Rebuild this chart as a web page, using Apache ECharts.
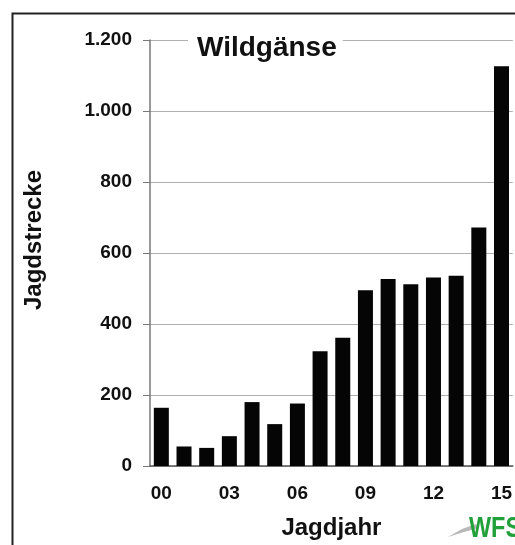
<!DOCTYPE html>
<html><head><meta charset="utf-8">
<script src="https://cdn.jsdelivr.net/npm/echarts@6/dist/echarts.min.js"></script>
<style>html,body{margin:0;padding:0;background:#fff}#c{width:515px;height:545px}</style>
</head><body><div id="c"></div>
<script>
const categories = ['00','01','02','03','04','05','06','07','08','09','10','11','12','13','14','15'];
const values = [164, 55, 51, 84, 180, 118, 176, 323, 361, 495, 527, 512, 531, 536, 672, 1126];
const yTicks = [0, 200, 400, 600, 800, 1000, 1200];
const titleText = 'Wildgänse';
const xName = 'Jagdjahr';
const yName = 'Jagdstrecke';

const chart = echarts.init(document.getElementById('c'), null, {renderer: 'canvas'});
const font = 'Liberation Sans, Arial, sans-serif';
chart.setOption({
  animation: false,
  backgroundColor: '#fff',
  grid: {left: 150, top: 40, right: 0, bottom: 78, containLabel: false},
  xAxis: {
    type: 'category', data: categories,
    axisLine: {lineStyle: {color: '#555', width: 1.5}},
    axisTick: {show: false},
    axisLabel: {interval: 2, color: '#111', fontFamily: font, fontWeight: 'bold', fontSize: 19, margin: 18},
    name: xName, nameLocation: 'middle', nameGap: 50,
    nameTextStyle: {color: '#111', fontFamily: font, fontWeight: 'bold', fontSize: 24}
  },
  yAxis: {
    type: 'value', min: yTicks[0], max: yTicks[yTicks.length - 1], interval: 200,
    axisLine: {show: true, lineStyle: {color: '#777', width: 1.5}},
    axisTick: {show: true, length: 7, lineStyle: {color: '#777'}},
    splitLine: {lineStyle: {color: '#b0b0b0', width: 1}},
    axisLabel: {
      color: '#111', fontFamily: font, fontWeight: 'bold', fontSize: 19, margin: 18,
      formatter: v => v.toString().replace(/\B(?=(\d{3})+(?!\d))/g, '.')
    }
  },
  series: [{
    type: 'bar', data: values, barWidth: 15,
    itemStyle: {color: '#050505'}
  }],
  graphic: [
    {type: 'rect', left: 10, top: 11, shape: {width: 520, height: 545}, style: {fill: 'none', stroke: '#222', lineWidth: 2}, z: 100, silent: true},
    {type: 'text', left: 188, top: 32, z: 50, style: {text: titleText, fill: '#111', font: 'bold 28px ' + font, backgroundColor: '#fff', padding: [2, 6, 2, 9]}},
    {type: 'text', x: 34, y: 240, rotation: Math.PI / 2, z: 50, style: {text: yName, fill: '#111', font: 'bold 24px ' + font, align: 'center', verticalAlign: 'middle'}},
    {type: 'polygon', z: 40, silent: true, shape: {points: [[448, 537], [462, 529], [476, 524], [478, 528], [464, 532]]}, style: {fill: '#b8b8b8'}},
    {type: 'text', x: 469, y: 514, scaleX: 0.78, z: 50, style: {text: 'WFS', fill: '#22a03a', font: 'bold 30px ' + font}}
  ]
});
</script></body></html>
